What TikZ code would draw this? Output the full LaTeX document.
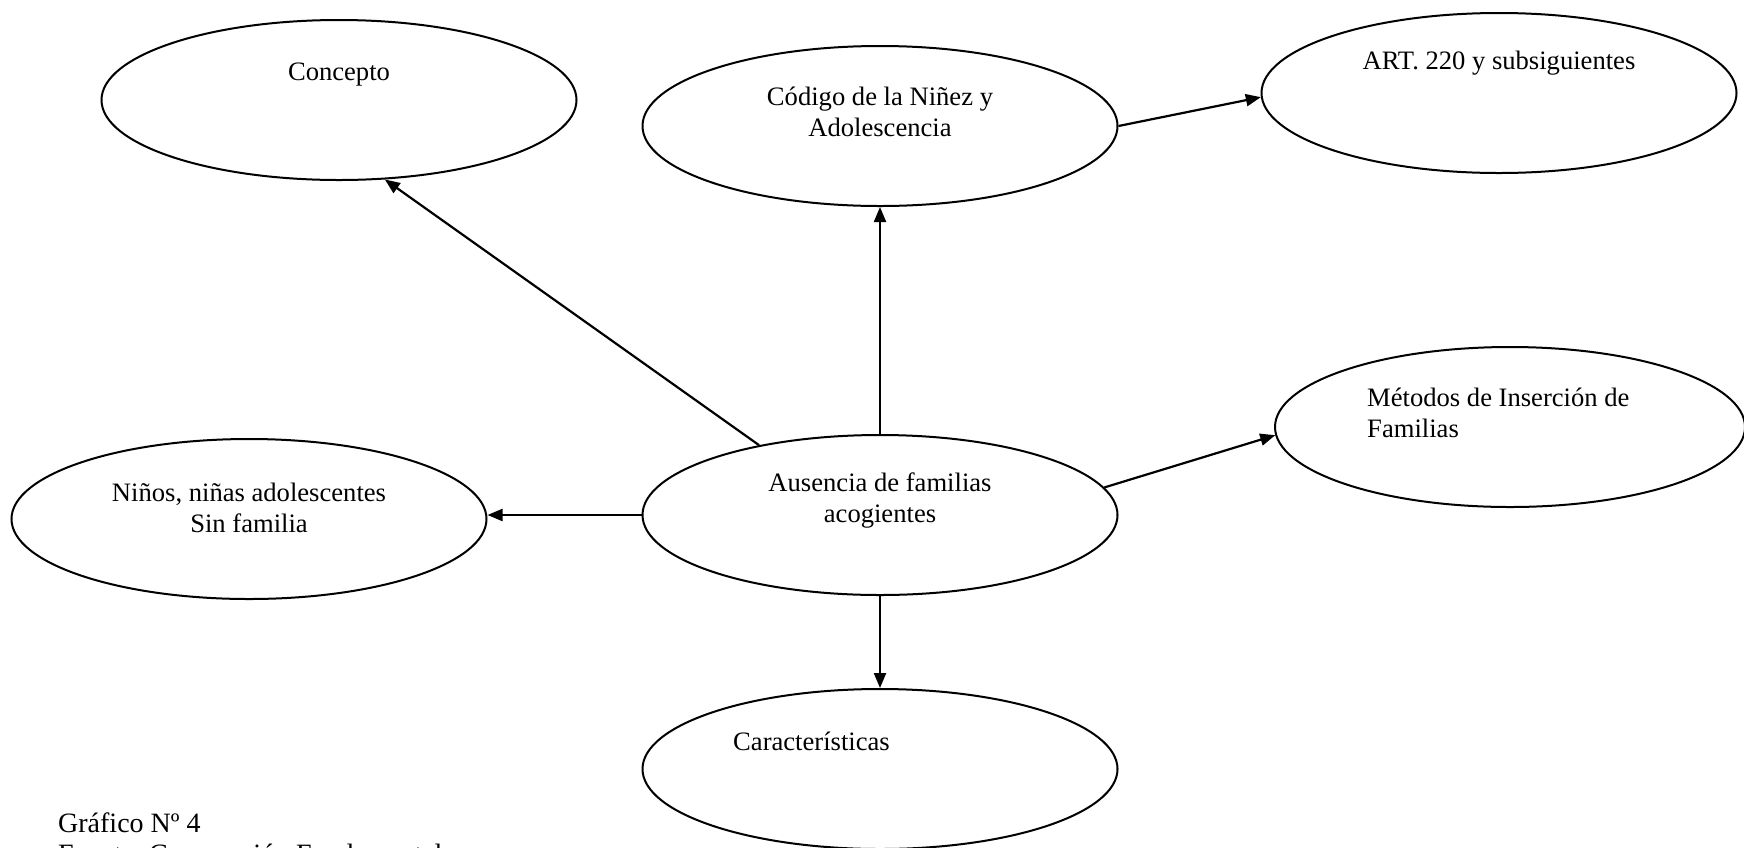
\documentclass[tikz,border=0pt]{standalone}
\usepackage{fontspec}
\setmainfont{Liberation Serif}
\usetikzlibrary{shapes.geometric,arrows.meta}
\tikzset{
  bub/.style={ellipse, draw, line width=2pt, minimum width=475pt, minimum height=160pt, inner sep=0pt},
  lbl/.style={font=\fontsize{26.6}{31}\selectfont, align=center, inner sep=0pt},
  lbll/.style={font=\fontsize{26.6}{31}\selectfont, align=left, anchor=west, inner sep=0pt},
  foot/.style={font=\fontsize{28}{31}\selectfont, anchor=base west, inner sep=0pt},
  arr/.style={-{Triangle[length=15pt,width=12pt]}, line width=2.2pt},
}
\begin{document}
\frenchspacing
\begin{tikzpicture}[x=1pt,y=-1pt]
\useasboundingbox (0,0) rectangle (1744,847);
% ellipses
\node[bub] (con) at (339,100) {};
\node[bub] (cod) at (880,126) {};
\node[bub] (art) at (1499,93) {};
\node[bub, minimum width=470pt] (met) at (1510,427) {};
\node[bub] (nin) at (249,519) {};
\node[bub] (aus) at (880,515) {};
\node[bub] (car) at (880,769) {};
% texts
\node[lbl] (tcon) at (339,75) {Concepto};
\node[lbl] (tcod) at (880,112) {Código de la Niñez y\\Adolescencia};
\node[lbl] (tart) at (1499,63) {ART. 220 y subsiguientes};
\node[lbll] (tmet) at (1367,413) {Métodos de Inserción de\\Familias};
\node[lbl] (tnin) at (249,508) {Niños, niñas adolescentes\\Sin familia};
\node[lbl] (taus) at (880,500) {Ausencia de familias\\acogientes};
\node[lbll] (tcar) at (733,741) {Características};
\node[foot] (grf) at (58,832) {Gráfico Nº 4};
\node[foot] (fte) at (58,863) {Fuente: Corporación Fundamental};
% connectors
\draw[arr] (aus.150) -- (con.300);
\draw[arr] (aus.north) -- (cod.south);
\draw[arr] (cod.east) -- (art.181);
\draw[arr] (aus.7) -- (met.182);
\draw[arr] (aus.west) -- (aus.west -| nin.east);
\draw[arr] (aus.south) -- (car.north);
\end{tikzpicture}
\end{document}
